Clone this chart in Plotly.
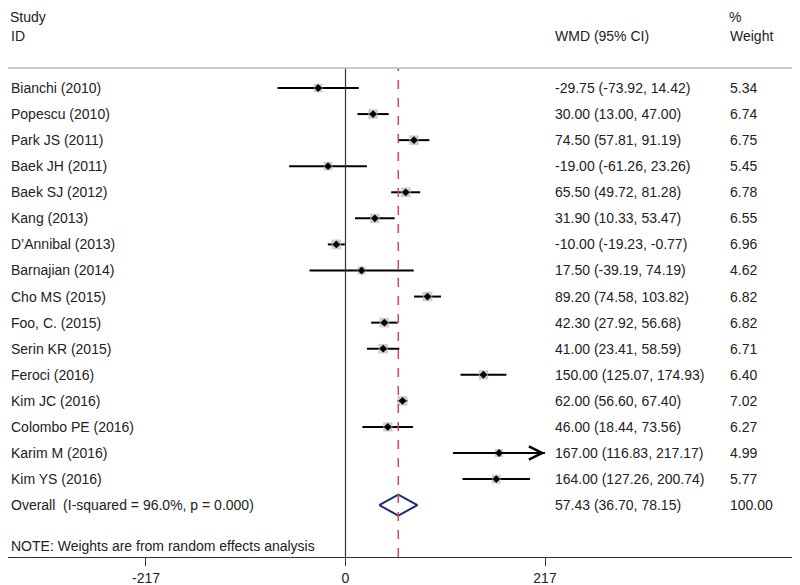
import plotly.graph_objects as go

# study data (WMD, 95% CI, % weight)
studies = [
    "Bianchi (2010)", "Popescu (2010)", "Park JS (2011)", "Baek JH (2011)",
    "Baek SJ (2012)", "Kang (2013)", "D\u2019Annibal (2013)", "Barnajian (2014)",
    "Cho MS (2015)", "Foo, C. (2015)", "Serin KR (2015)", "Feroci (2016)",
    "Kim JC (2016)", "Colombo PE (2016)", "Karim M (2016)", "Kim YS (2016)",
]
wmd = [-29.75, 30.00, 74.50, -19.00, 65.50, 31.90, -10.00, 17.50,
       89.20, 42.30, 41.00, 150.00, 62.00, 46.00, 167.00, 164.00]
ci_low = [-73.92, 13.00, 57.81, -61.26, 49.72, 10.33, -19.23, -39.19,
          74.58, 27.92, 23.41, 125.07, 56.60, 18.44, 116.83, 127.26]
ci_high = [14.42, 47.00, 91.19, 23.26, 81.28, 53.47, -0.77, 74.19,
           103.82, 56.68, 58.59, 174.93, 67.40, 73.56, 217.17, 200.74]
weights = [5.34, 6.74, 6.75, 5.45, 6.78, 6.55, 6.96, 4.62,
           6.82, 6.82, 6.71, 6.40, 7.02, 6.27, 4.99, 5.77]

overall_label = "Overall  (I-squared = 96.0%, p = 0.000)"
overall_est = 57.43
overall_low = 36.70
overall_high = 78.15
overall_weight = 100.00

axis_ticks = [-217, 0, 217]
axis_tick_labels = ["-217", "0", "217"]
note = "NOTE: Weights are from random effects analysis"

FONT = "Arial, Liberation Sans, sans-serif"
TXT = "#222222"
FS = 14

# page body has an 8px margin, so the figure is drawn 8px in and down
OFF = 8
W, H = 800 - OFF, 585 - OFF
axis_px = 557 - OFF
BOTTOM = H - axis_px
plot_h = axis_px
zero_px, px_per_unit = 345.5 - OFF, 0.9194
row1_px, row_px = 88.0 - OFF, 26.07


def row_of(px):
    return 1 + (px - row1_px) / row_px


rows = list(range(1, len(studies) + 1))
overall_row = len(studies) + 1
lim = axis_ticks[-1]
hi_clip = [min(h, lim) for h in ci_high]

fig = go.Figure()

# CI bars + grey weight boxes
fig.add_trace(go.Scatter(
    x=wmd, y=rows, mode="markers",
    marker=dict(symbol="square", color="#b8b8b8",
                size=[3.7 * w ** 0.5 for w in weights], line=dict(width=0)),
    error_x=dict(type="data", symmetric=False,
                 array=[h - e for h, e in zip(hi_clip, wmd)],
                 arrayminus=[e - l for e, l in zip(wmd, ci_low)],
                 width=0, thickness=2, color="black"),
    showlegend=False, hoverinfo="skip",
))
# point estimates
fig.add_trace(go.Scatter(
    x=wmd, y=rows, mode="markers",
    marker=dict(symbol="diamond", color="black", size=6),
    showlegend=False, hoverinfo="skip",
))

# overall diamond
dh = 0.4
fig.add_trace(go.Scatter(
    x=[overall_low, overall_est, overall_high, overall_est, overall_low],
    y=[overall_row, overall_row - dh, overall_row, overall_row + dh, overall_row],
    mode="lines", line=dict(color="#1f2a7a", width=2),
    showlegend=False, hoverinfo="skip",
))

# arrows for CIs beyond axis limit
for r, h, l in zip(rows, ci_high, ci_low):
    if h > lim:
        fig.add_annotation(x=lim, y=r, ax=max(l, -lim), ay=r, xref="x", yref="y",
                           axref="x", ayref="y", showarrow=True, arrowhead=5,
                           arrowsize=1.3, arrowwidth=2, arrowcolor="black",
                           standoff=0, text="")

top_line = 1 - (68 - OFF) / plot_h
# vertical null line and overall line
fig.add_shape(type="line", xref="x", yref="paper", x0=0, x1=0, y0=0, y1=top_line,
              line=dict(color="#333333", width=1.2))
fig.add_shape(type="line", xref="x", yref="paper", x0=overall_est, x1=overall_est,
              y0=0, y1=top_line, line=dict(color="#c0504d", width=1.5, dash="dash"))
# header separator
fig.add_shape(type="line", xref="paper", yref="paper", x0=0, x1=1, y0=top_line,
              y1=top_line, line=dict(color="#bbbbbb", width=1.5))

col_name, col_wmd, col_w = (9 - OFF) / W, (553 - OFF) / W, (728 - OFF) / W


def txt(x, y, s, top=False):
    fig.add_annotation(x=x, y=1 if top else y, xref="paper",
                       yref="paper" if top else "y", text=s, showarrow=False,
                       xanchor="left", yanchor="top" if top else "middle",
                       borderpad=0 if top else 1,
                       font=dict(family=FONT, size=FS, color=TXT))


txt(col_name, -2, "Study", top=True)
txt(col_name, -1, "ID")
txt(col_wmd, -1, "WMD (95% CI)")
txt(col_w, -2, "%", top=True)
txt(col_w, -1, "Weight")

for r, s, e, l, h, w in zip(rows, studies, wmd, ci_low, ci_high, weights):
    txt(col_name, r, s)
    txt(col_wmd, r, f"{e:.2f} ({l:.2f}, {h:.2f})")
    txt(col_w, r, f"{w:.2f}")

txt(col_name, overall_row, overall_label)
txt(col_wmd, overall_row, f"{overall_est:.2f} ({overall_low:.2f}, {overall_high:.2f})")
txt(col_w, overall_row, f"{overall_weight:.2f}")
txt(col_name, row_of(546 - OFF), note)

fig.update_layout(
    width=W, height=H,
    margin=dict(l=0, r=0, t=0, b=BOTTOM),
    plot_bgcolor="white", paper_bgcolor="white",
    font=dict(family=FONT, size=FS, color=TXT),
    xaxis=dict(range=[-zero_px / px_per_unit, (W - zero_px) / px_per_unit],
               tickvals=axis_ticks, ticktext=axis_tick_labels,
               ticks="outside", ticklen=8, tickwidth=1.2,
               tickcolor="#333333", showgrid=False, zeroline=False,
               showline=True, linecolor="#333333", linewidth=1.2,
               tickfont=dict(size=FS, color=TXT)),
    yaxis=dict(range=[row_of(plot_h), row_of(0)], visible=False,
               showgrid=False, zeroline=False),
)

fig.write_html("out.html")
